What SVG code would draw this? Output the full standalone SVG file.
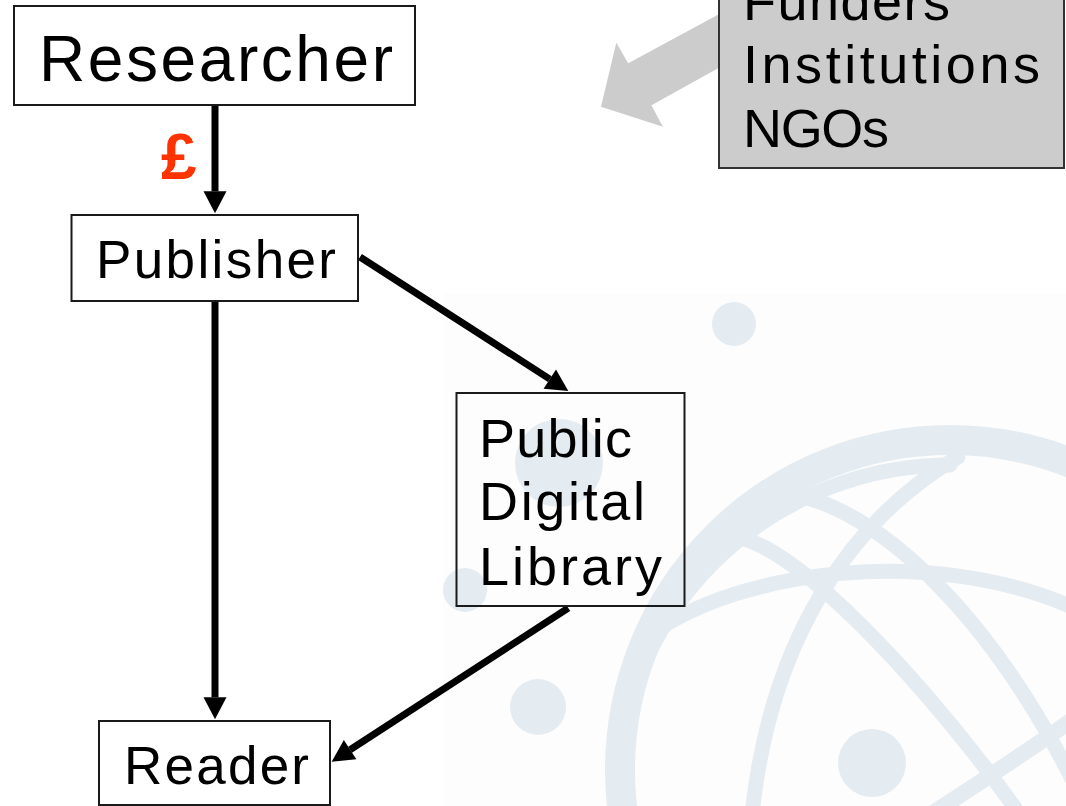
<svg xmlns="http://www.w3.org/2000/svg" width="1066" height="806" viewBox="0 0 1066 806">
  <defs>
    <style>
      .box { fill: none; stroke: #1a1a1a; stroke-width: 2; }
      .lbl { font-family: "Liberation Sans", Arial, sans-serif; fill: #000; }
      .con { stroke: #000; stroke-width: 7; fill: none; marker-end: url(#ah); }
      .lg { fill: none; stroke: #e4ecf2; }
      .dot { fill: #e4ecf2; }
    </style>
    <marker id="ah" markerUnits="userSpaceOnUse" markerWidth="22" markerHeight="23" refX="0" refY="11.5" orient="auto" overflow="visible">
      <path d="M0,0 L22,11.5 L0,23 z" fill="#000"/>
    </marker>
  </defs>

  <rect x="0" y="0" width="1066" height="806" fill="#ffffff"/>

  <!-- faint background logo -->
  <g id="background-logo">
    <rect x="443" y="293" width="623" height="513" fill="#fdfdfd"/>
    <circle class="lg" cx="950" cy="770" r="330" stroke-width="30"/>
    <path class="lg" stroke-width="15" stroke-linecap="round" d="M624.7,720 A335,335 0 0 1 950,465"/>
    <path class="lg" stroke-width="15" stroke-linecap="round" d="M958,457 C850,520 770,640 752,815"/>
    <path class="lg" stroke-width="15" d="M780,492 C885,505 1000,630 1080,795"/>
    <path class="lg" stroke-width="15" d="M735,537 C800,545 940,700 1022,818"/>
    <path class="lg" stroke-width="15" d="M650,635 C740,570 930,545 1072,607"/>
    <path class="lg" stroke-width="16" d="M925,818 Q1000,770 1075,718"/>
    <circle class="dot" cx="734" cy="324" r="22"/>
    <circle class="dot" cx="559" cy="463" r="44"/>
    <circle class="dot" cx="465" cy="590" r="22"/>
    <circle class="dot" cx="538" cy="707" r="28"/>
    <circle class="dot" cx="872" cy="763" r="34"/>
  </g>

  <!-- grey arrow from funders -->
  <g id="funders-arrow">
    <polygon fill="#cccccc" points="760,-8 628.2,63.3 616.3,42.7 601,106.7 662.9,126.7 651.4,105.3 760,45"/>
  </g>

  <g id="connectors">
    <line class="con" x1="215" y1="105" x2="215" y2="191.3"/>
    <line class="con" x1="215" y1="301" x2="215" y2="697.3"/>
    <line class="con" x1="360" y1="257" x2="549.8" y2="379.1"/>
    <line class="con" x1="568.3" y1="608" x2="350.1" y2="749.7"/>
    <text x="161" y="179" font-family="Liberation Sans, Arial, sans-serif" font-weight="bold" font-size="64" fill="#ff3300">£</text>
  </g>

  <g id="researcher">
    <rect class="box" x="14" y="6" width="401" height="99"/>
    <text class="lbl" x="39" y="81" font-size="64" textLength="354" lengthAdjust="spacing">Researcher</text>
  </g>

  <g id="publisher">
    <rect class="box" x="71.5" y="215" width="286.5" height="86"/>
    <text class="lbl" x="96" y="278" font-size="53" textLength="240" lengthAdjust="spacing">Publisher</text>
  </g>

  <g id="public-digital-library">
    <rect class="box" x="456.5" y="393" width="228" height="213"/>
    <text class="lbl" x="479" y="457" font-size="54" textLength="153" lengthAdjust="spacing">Public</text>
    <text class="lbl" x="479" y="520" font-size="54" textLength="166" lengthAdjust="spacing">Digital</text>
    <text class="lbl" x="479" y="585" font-size="54" textLength="183" lengthAdjust="spacing">Library</text>
  </g>

  <g id="reader">
    <rect class="box" x="99" y="721" width="231" height="84"/>
    <text class="lbl" x="124" y="784" font-size="53" textLength="185" lengthAdjust="spacing">Reader</text>
  </g>

  <g id="funders">
    <rect x="719" y="-10" width="345" height="178" fill="#cccccc" stroke="#333333" stroke-width="2"/>
    <text class="lbl" x="743" y="20" font-size="54" textLength="207" lengthAdjust="spacing">Funders</text>
    <text class="lbl" x="743" y="83" font-size="54" textLength="297" lengthAdjust="spacing">Institutions</text>
    <text class="lbl" x="743" y="147" font-size="54" textLength="146" lengthAdjust="spacing">NGOs</text>
  </g>
</svg>
